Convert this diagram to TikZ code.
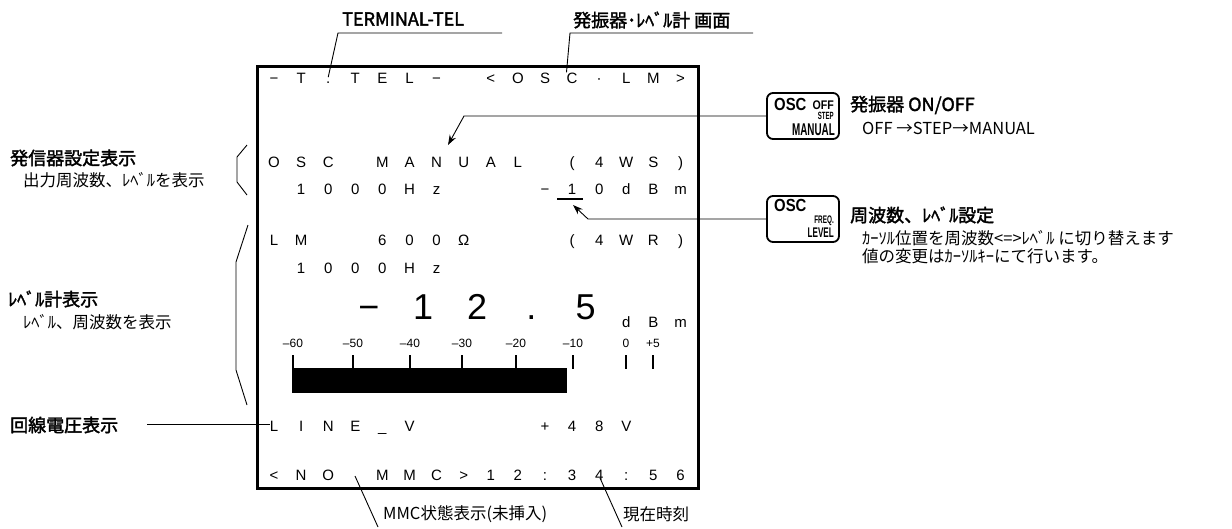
\documentclass[tikz,border=0pt]{standalone}
\usepackage{fontspec}
\setmainfont{Liberation Sans}
\newfontfamily\jpfont{Noto Sans CJK JP}[AutoFakeBold=2]
\newfontfamily\keyfont{Liberation Sans}[FakeStretch=0.85]
\newfontfamily\keynarrow{Liberation Sans}[FakeStretch=0.58]
\usetikzlibrary{arrows.meta}

\begin{document}
\begin{tikzpicture}[x=1pt, y=-1pt,
  lcd/.style={anchor=base, inner sep=0pt, font=\fontsize{15}{15}\selectfont},
  bigd/.style={anchor=base, inner sep=0pt, font=\fontsize{36}{36}\selectfont},
  scl/.style={anchor=base, inner sep=0pt, font=\fontsize{12}{12}\selectfont},
  hdr/.style={anchor=west, inner sep=0pt, font=\jpfont\bfseries\fontsize{18}{18}\selectfont},
  note/.style={anchor=west, inner sep=0pt, font=\jpfont\fontsize{16.5}{16.5}\selectfont},
  keybox/.style={draw, line width=1.8pt, rounded corners=6pt, minimum width=72pt, minimum height=46pt},
  keyt/.style={inner sep=0pt},
  lead/.style={line width=0.9pt},
  arr/.style={lead, -{Stealth[length=10pt, width=7pt]}}]
\useasboundingbox (0,0) rectangle (1232,528);

% LCD screen
\node[draw, line width=2.6pt, minimum width=441pt, minimum height=422pt, inner sep=0pt, anchor=north west] (screen) at (256,65) {};
\foreach \i/\c in {0/−,1/T,2/.,3/T,4/E,5/L,6/−,8/<,9/O,10/S,11/C,12/·,13/L,14/M,15/>}
  \node[lcd] (ra\i) at (274+27.1*\i, 83) {\c};
\foreach \i/\c in {0/O,1/S,2/C,4/M,5/A,6/N,7/U,8/A,9/L,11/(,12/4,13/W,14/S,15/)}
  \node[lcd] (rb\i) at (274+27.1*\i, 167) {\c};
\foreach \i/\c in {1/1,2/0,3/0,4/0,5/H,6/z,10/−,11/1,12/0,13/d,14/B,15/m}
  \node[lcd] (rc\i) at (274+27.1*\i, 194) {\c};
\draw[line width=2pt] (557,198.5) -- (583,198.5);
\foreach \i/\c in {0/L,1/M,4/6,5/0,6/0,7/Ω,11/(,12/4,13/W,14/R,15/)}
  \node[lcd] (rd\i) at (274+27.1*\i, 245) {\c};
\foreach \i/\c in {1/1,2/0,3/0,4/0,5/H,6/z}
  \node[lcd] (re\i) at (274+27.1*\i, 273) {\c};
\foreach \i/\c [count=\n] in {3.5/−,5.5/1,7.5/2,9.5/.,11.5/5}
  \node[bigd] (bd\n) at (274+27.1*\i, 319) {\c};
\foreach \i/\c in {13/d,14/B,15/m}
  \node[lcd] (rf\i) at (274+27.1*\i, 327) {\c};

% bar graph
\foreach \x/\v [count=\n] in {293/–60,353/–50,410/–40,462/–30,516/–20,573/–10,626/0,653/+5} {
  \node[scl] (sc\n) at (\x,347) {\v};
  \draw[line width=1.3pt] (\x,355) -- (\x,369);
}
\fill (292,368) rectangle (567,393);

\foreach \i/\c in {0/L,1/I,2/N,3/E,4/\_,5/V,10/+,11/4,12/8,13/V}
  \node[lcd] (rg\i) at (274+27.1*\i, 431) {\c};
\foreach \i/\c in {0/<,1/N,2/O,4/M,5/M,6/C,7/>,8/1,9/2,10/:,11/3,12/4,13/:,14/5,15/6}
  \node[lcd] (rh\i) at (274+27.1*\i, 480) {\c};

% top labels
\node[hdr] (term) at (342,19) {TERMINAL-TEL};
\node[hdr] (oscscr) at (573,20) {発振器･ﾚﾍﾞﾙ計 画面};
\coordinate (term-r) at (502,33);
\coordinate (term-k) at (338,33);
\draw[lead] (term-r) -- (term-k) -- ([yshift=4pt]ra2.north);
\coordinate (oscscr-r) at (753,33);
\coordinate (oscscr-k) at (570,33);
\draw[lead] (oscscr-r) -- (oscscr-k) -- (ra11.north west);

% left labels
\node[hdr] (oscset) at (10,158) {発信器設定表示};
\node[note] (oscset-s) at (23,180) {出力周波数、ﾚﾍﾞﾙを表示};
\draw[lead] (247,145) -- (237,157) -- (237,182) -- (247,195);
\node[hdr] (lmset) at (8,299) {ﾚﾍﾞﾙ計表示};
\node[note] (lmset-s) at (23,322) {ﾚﾍﾞﾙ、周波数を表示};
\draw[lead] (248,225) -- (236,262) -- (236,370) -- (247,405);
\node[hdr] (linev) at (10,425) {回線電圧表示};
\draw[lead] (147,424) -- (rg0.west |- 0,424);

% keys
\node[keybox] (k-osc) at (803,116) {};
\node[keyt, anchor=base west, font=\keyfont\bfseries\fontsize{17.5}{17.5}\selectfont] (k-osc-a) at (774,110) {OSC};
\node[keyt, anchor=base east, font=\keyfont\bfseries\fontsize{12.5}{12.5}\selectfont] (k-osc-b) at (834,109) {OFF};
\node[keyt, anchor=base east, font=\keynarrow\bfseries\fontsize{10.5}{10.5}\selectfont] (k-osc-c) at (834,119) {STEP};
\node[keyt, anchor=base east, font=\keynarrow\bfseries\fontsize{17}{17}\selectfont] (k-osc-d) at (835,135) {MANUAL};
\node[keybox] (k-freq) at (803,219) {};
\node[keyt, anchor=base west, font=\keyfont\bfseries\fontsize{17.5}{17.5}\selectfont] (k-freq-a) at (774,211) {OSC};
\node[keyt, anchor=base east, font=\keynarrow\bfseries\fontsize{11}{11}\selectfont] (k-freq-b) at (834,223) {FREQ.};
\node[keyt, anchor=base east, font=\keynarrow\bfseries\fontsize{14}{14}\selectfont] (k-freq-c) at (834,237) {LEVEL};

% right labels
\node[hdr] (onoff) at (850,105) {発振器 ON/OFF};
\node[note] (onoff-s) at (862,128) {OFF →STEP→MANUAL};
\node[hdr] (freq) at (850,215) {周波数、ﾚﾍﾞﾙ設定};
\node[note] (freq-s1) at (862,238) {ｶｰｿﾙ位置を周波数<=>ﾚﾍﾞﾙ に切り替えます};
\node[note] (freq-s2) at (862,256) {値の変更はｶｰｿﾙｷｰにて行います。};
\coordinate (onoff-k) at (464,116);
\coordinate (onoff-t) at (448,145);
\draw[arr] (k-osc.west) -- (onoff-k) -- (onoff-t);
\coordinate (freq-k) at (588,219);
\coordinate (freq-t) at (573,205);
\draw[arr] (k-freq.west) -- (freq-k) -- (freq-t);

% bottom labels
\node[note] (mmc) at (383,514) {MMC状態表示(未挿入)};
\node[note] (clock) at (623,514) {現在時刻};
\coordinate (mmc-t) at (355,476);
\coordinate (mmc-b) at (378,527);
\draw[lead] (mmc-t) -- (mmc-b);
\coordinate (clock-t) at (600,478);
\coordinate (clock-b) at (622,527);
\draw[lead] (clock-t) -- (clock-b);
\end{tikzpicture}
\end{document}
